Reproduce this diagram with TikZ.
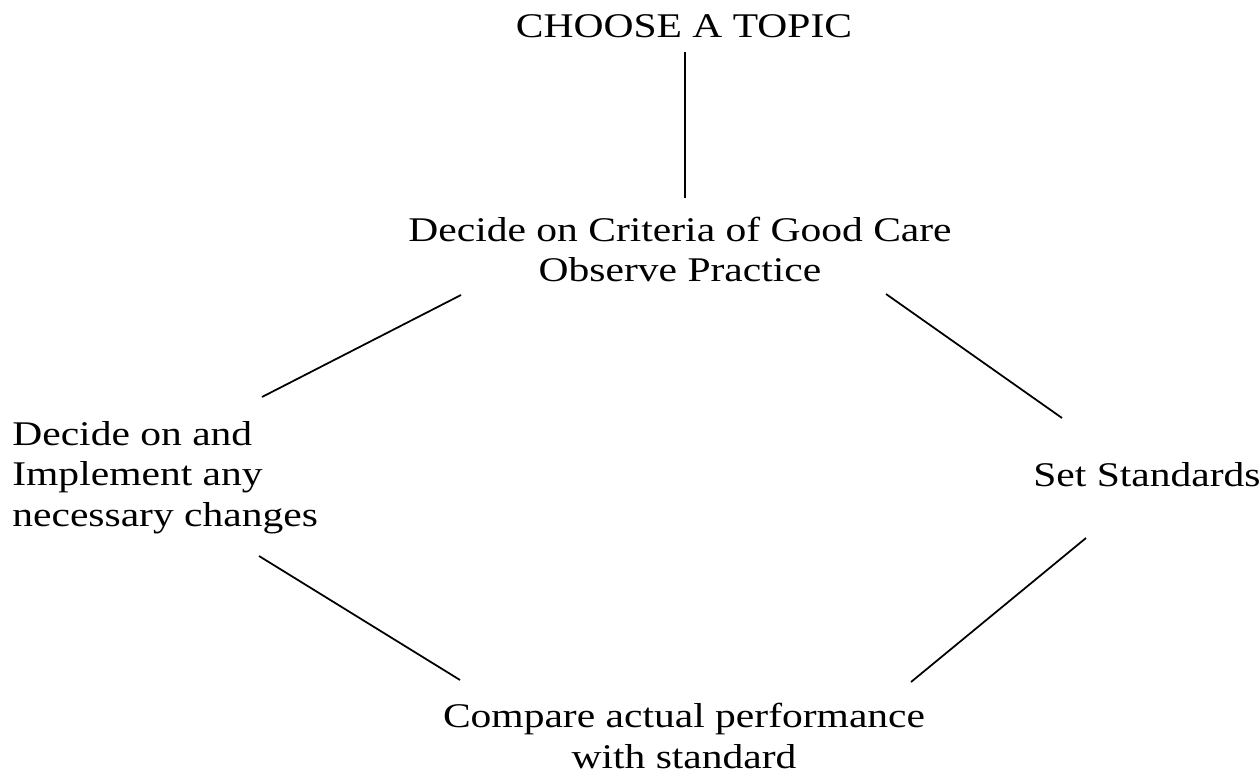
\documentclass[tikz,border=0pt]{standalone}
\usepackage{fontspec}
\setmainfont{Liberation Serif}[FakeStretch=1.2]
\usepackage{tikz}

\begin{document}
\begin{tikzpicture}[x=0.02cm, y=-0.02cm,
		txt/.style={inner sep=0pt, align=center, font=\fontsize{19.7}{22.8}\selectfont},
		link/.style={line width=1pt}]
	\useasboundingbox (0, 0) rectangle (1260, 773);
	\node[txt, anchor=base] at (684, 38) (topic) {CHOOSE A TOPIC};
	\node[txt, anchor=base] at (680, 282) (criteria) {Decide on Criteria of Good Care\\Observe Practice};
	\node[txt, anchor=base west, align=left] at (12, 526) (change) {Decide on and\\Implement any\\necessary changes};
	\node[txt, anchor=base west] at (1033, 486) (standards) {Set Standards};
	\node[txt, anchor=base] at (684, 768) (compare) {Compare actual performance\\with standard};
	\coordinate (topic-end) at (685, 52);
	\coordinate (criteria-top) at (685, 198);
	\coordinate (criteria-left) at (461, 295);
	\coordinate (change-top) at (262, 397);
	\coordinate (change-bottom) at (259, 556);
	\coordinate (compare-left) at (460, 680);
	\coordinate (criteria-right) at (886, 294);
	\coordinate (standards-top) at (1062, 418);
	\coordinate (standards-bottom) at (1086, 538);
	\coordinate (compare-right) at (911, 682);
	\draw[link] (topic-end) -- (criteria-top);
	\draw[link] (criteria-left) -- (change-top);
	\draw[link] (change-bottom) -- (compare-left);
	\draw[link] (criteria-right) -- (standards-top);
	\draw[link] (standards-bottom) -- (compare-right);
\end{tikzpicture}
\end{document}
